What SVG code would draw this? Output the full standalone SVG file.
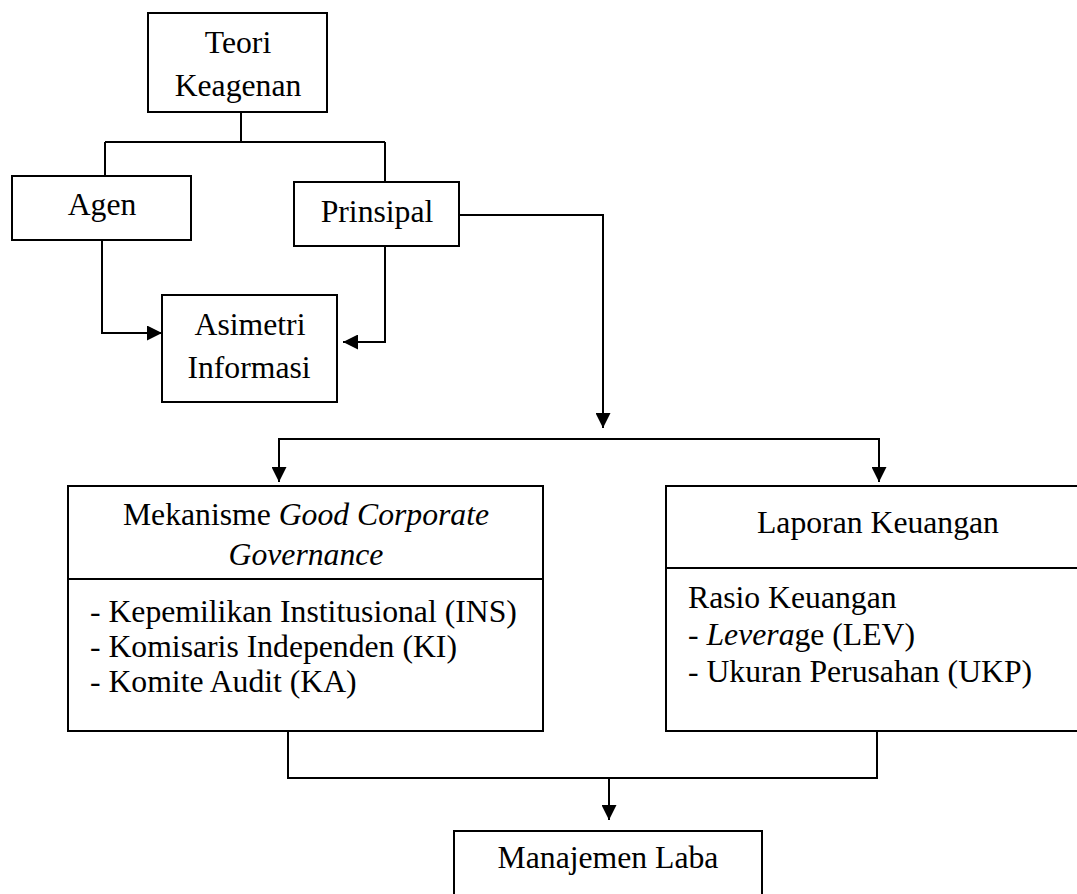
<svg xmlns="http://www.w3.org/2000/svg" width="1077" height="894" viewBox="0 0 1077 894">
<style>
.box{fill:#fff;stroke:#000;stroke-width:2}
.ln{fill:none;stroke:#000;stroke-width:2}
text{font-family:"Liberation Serif","Times New Roman",serif;font-size:31.7px;fill:#000}
.c{text-anchor:middle}
.i{font-style:italic}
</style>
<defs>
<marker id="ah" markerWidth="15" markerHeight="15" viewBox="0 0 15 15" refX="15" refY="7.5" orient="auto" markerUnits="userSpaceOnUse">
<path d="M0,0 L15,7.5 L0,15 Z" fill="#000"/>
</marker>
</defs>
<rect width="1077" height="894" fill="#fff"/>
<g id="connectors">
<path class="ln" d="M241,112 V142 M105,142 H385 M105,142 V176 M385,142 V182"/>
<path class="ln" d="M102,240 V333 H162" marker-end="url(#ah)"/>
<path class="ln" d="M385,246 V342 H343" marker-end="url(#ah)"/>
<path class="ln" d="M459,215 H603 V428" marker-end="url(#ah)"/>
<path class="ln" d="M279,482 V439 H879 V482" marker-end="url(#ah)"/>
<path class="ln" d="M279,439 V482" marker-end="url(#ah)"/>
<path class="ln" d="M288,732 V778 H877 V732"/>
<path class="ln" d="M609,778 V820" marker-end="url(#ah)"/>
</g>
<g id="teori">
<rect class="box" x="148" y="13" width="179" height="99"/>
<text class="c" x="238" y="53">Teori</text>
<text class="c" x="238" y="96">Keagenan</text>
</g>
<g id="agen">
<rect class="box" x="12" y="176" width="179" height="64"/>
<text class="c" x="102" y="215">Agen</text>
</g>
<g id="prinsipal">
<rect class="box" x="294" y="182" width="165" height="64"/>
<text class="c" x="377" y="222">Prinsipal</text>
</g>
<g id="asimetri">
<rect class="box" x="162" y="295" width="175" height="107"/>
<text class="c" x="250" y="335">Asimetri</text>
<text class="c" x="249" y="378">Informasi</text>
</g>
<g id="gcg">
<rect class="box" x="68" y="486" width="475" height="245"/>
<line class="ln" x1="68" y1="579" x2="543" y2="579"/>
<text class="c" x="306" y="525">Mekanisme <tspan class="i">Good Corporate</tspan></text>
<text class="c i" x="306" y="565">Governance</text>
<text x="90" y="622">- Kepemilikan Institusional (INS)</text>
<text x="90" y="657">- Komisaris Independen (KI)</text>
<text x="90" y="692">- Komite Audit (KA)</text>
</g>
<g id="laporan">
<rect class="box" x="666" y="486" width="420" height="245"/>
<line class="ln" x1="666" y1="568" x2="1086" y2="568"/>
<text class="c" x="878" y="533">Laporan Keuangan</text>
<text x="688" y="608">Rasio Keuangan</text>
<text x="688" y="645">- <tspan class="i">Levera</tspan>ge (LEV)</text>
<text x="688" y="682">- Ukuran Perusahan (UKP)</text>
</g>
<g id="manajemen">
<rect class="box" x="454" y="831" width="308" height="80"/>
<text class="c" x="608" y="868">Manajemen Laba</text>
</g>
</svg>
